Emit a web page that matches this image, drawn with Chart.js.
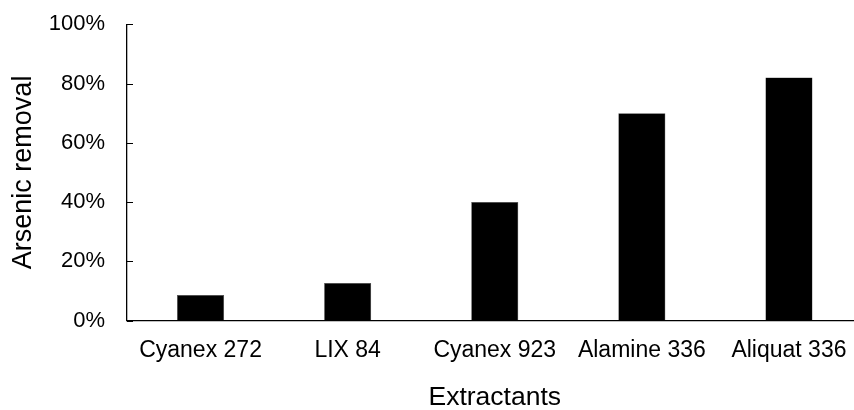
<!DOCTYPE html>
<html>
<head>
<meta charset="utf-8">
<script src="https://cdn.jsdelivr.net/npm/chart.js@4/dist/chart.umd.min.js"></script>
<style>
  html, body { margin: 0; padding: 0; background: #fff; overflow: hidden; }
  #wrap { width: 866px; height: 410px; }
</style>
</head>
<body>
<div id="wrap"><canvas id="c" width="866" height="410"></canvas></div>
<script>
// Arsenic removal by extractant (percent)
const extractants = ['Cyanex 272', 'LIX 84', 'Cyanex 923', 'Alamine 336', 'Aliquat 336'];
const arsenicRemoval = [8.6, 12.7, 40, 70, 82];
const yTicks = [0, 20, 40, 60, 80, 100];

const FONT = "'Liberation Sans', Arial, sans-serif";

// short tick marks drawn on the inner side of the value axis
const innerTicks = {
  id: 'innerTicks',
  afterDraw(chart) {
    const y = chart.scales.y;
    const ctx = chart.ctx;
    const x0 = chart.chartArea.left;
    ctx.save();
    ctx.strokeStyle = '#000';
    ctx.lineWidth = 1;
    yTicks.forEach(v => {
      const py = Math.round(y.getPixelForValue(v)) + 0.5;
      ctx.beginPath();
      ctx.moveTo(x0, py);
      ctx.lineTo(x0 + 6, py);
      ctx.stroke();
    });
    ctx.restore();
  }
};

new Chart(document.getElementById('c'), {
  type: 'bar',
  data: {
    labels: extractants,
    datasets: [{
      data: arsenicRemoval,
      backgroundColor: '#000',
      borderColor: '#444',
      borderWidth: 0.5,
      barPercentage: 0.32,
      categoryPercentage: 1
    }]
  },
  options: {
    responsive: false,
    animation: false,
    events: [],
    layout: { padding: { top: 24.3, right: 3.5, bottom: 0, left: 0 } },
    plugins: { legend: { display: false }, tooltip: { enabled: false } },
    scales: {
      x: {
        afterFit(s) { s.height = 89.5; },
        grid: { display: true, drawOnChartArea: false, drawTicks: false },
        border: { display: true, color: '#000', width: 1.3 },
        ticks: { color: '#000', padding: 16, maxRotation: 0, autoSkip: false,
                 font: { family: FONT, size: 23 } },
        title: { display: true, text: 'Extractants', color: '#000',
                 font: { family: FONT, size: 26.5, lineHeight: 1 },
                 padding: { top: 0, bottom: -1 } }
      },
      y: {
        min: 0, max: 100,
        afterFit(s) { s.width = 127; s.paddingTop = 12; s.paddingBottom = 12; },
        afterBuildTicks(s) { s.ticks = yTicks.map(v => ({ value: v })); },
        grid: { display: true, drawOnChartArea: false, drawTicks: false },
        border: { display: true, color: '#000', width: 1.3 },
        ticks: { color: '#000', padding: 22, callback: v => v + '%',
                 font: { family: FONT, size: 22 } },
        title: { display: true, text: 'Arsenic removal', color: '#000',
                 font: { family: FONT, size: 27, lineHeight: 1 },
                 padding: { top: 10, bottom: 0 } }
      }
    }
  },
  plugins: [innerTicks]
});
</script>
</body>
</html>
